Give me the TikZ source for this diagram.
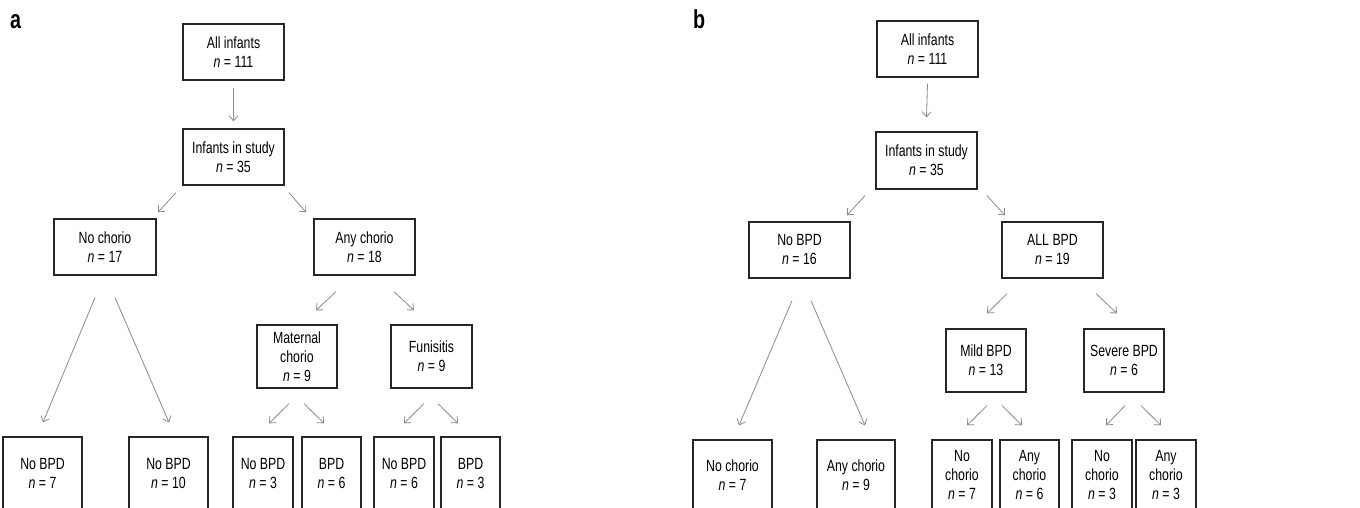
\documentclass[tikz,border=0pt]{standalone}
\usepackage{fontspec}
\setmainfont{Liberation Sans}[FakeStretch=0.76]
\usetikzlibrary{arrows.meta}
\definecolor{boxline}{HTML}{262626}
\definecolor{arrline}{HTML}{8A8A8A}
\tikzset{
  box/.style={draw=boxline, line width=1.3pt, inner sep=0pt, align=center,
    font=\fontsize{16.2}{19}\selectfont, text=black},
  arr/.style={draw=arrline, line width=0.8pt, -{Straight Barb[length=5pt,width=9pt]}},
  panel/.style={font=\bfseries\fontsize{26}{26}\selectfont, anchor=base west, inner sep=0pt},
}
\newcommand{\nn}[1]{\textit{n} = #1}
\begin{document}
\begin{tikzpicture}[x=1pt,y=-1pt]
\path[use as bounding box] (0,0) rectangle (1360,508);
\clip (0,0) rectangle (1360,508);
% panel labels
\node[panel] (la) at (10,29) {a};
\node[panel] (lb) at (693,29) {b};
% ---------- panel a ----------
\node[box, minimum width=101pt, minimum height=56pt] (aall) at (233.5,52) {All infants\\\nn{111}};
\node[box, minimum width=101pt, minimum height=56pt] (astudy) at (233.5,157) {Infants in study\\\nn{35}};
\node[box, minimum width=102pt, minimum height=56pt] (anoch) at (105,247) {No chorio\\\nn{17}};
\node[box, minimum width=101pt, minimum height=56pt] (aany) at (364.5,247) {Any chorio\\\nn{18}};
\node[box, minimum width=80pt, minimum height=63pt] (amat) at (297,356.5) {Maternal\\chorio\\\nn{9}};
\node[box, minimum width=81pt, minimum height=63pt] (afun) at (431.5,356.5) {Funisitis\\\nn{9}};
\node[box, minimum width=79pt, minimum height=73pt] (ab1) at (42.5,473.5) {No BPD\\\nn{7}};
\node[box, minimum width=79pt, minimum height=73pt] (ab2) at (168.5,473.5) {No BPD\\\nn{10}};
\node[box, minimum width=60pt, minimum height=73pt] (ab3) at (263,473.5) {No BPD\\\nn{3}};
\node[box, minimum width=59pt, minimum height=73pt] (ab4) at (331.5,473.5) {BPD\\\nn{6}};
\node[box, minimum width=60pt, minimum height=73pt] (ab5) at (404,473.5) {No BPD\\\nn{6}};
\node[box, minimum width=59pt, minimum height=73pt] (ab6) at (470.5,473.5) {BPD\\\nn{3}};
\draw[arr] ([shift={(0,7)}]aall.south) -- ([shift={(0,-7)}]astudy.north);
\draw[arr] ([shift={(-57.5,7)}]astudy.south) -- ([shift={(53,-6)}]anoch.north);
\draw[arr] ([shift={(55.5,7)}]astudy.south) -- ([shift={(-58.5,-6)}]aany.north);
\draw[arr] ([shift={(-10,22)}]anoch.south) -- ([shift={(0.5,-14)}]ab1.north);
\draw[arr] ([shift={(10,22)}]anoch.south) -- ([shift={(0.5,-14)}]ab2.north);
\draw[arr] ([shift={(-28.5,16)}]aany.south) -- ([shift={(19,-14)}]amat.north);
\draw[arr] ([shift={(29.5,16)}]aany.south) -- ([shift={(-17.5,-14)}]afun.north);
\draw[arr] ([shift={(-8,15)}]amat.south) -- ([shift={(6,-13)}]ab3.north);
\draw[arr] ([shift={(7,15)}]amat.south) -- ([shift={(-7.5,-13)}]ab4.north);
\draw[arr] ([shift={(-7.5,15)}]afun.south) -- ([shift={(0,-13)}]ab5.north);
\draw[arr] ([shift={(6.5,15)}]afun.south) -- ([shift={(-12.5,-13)}]ab6.north);
% ---------- panel b ----------
\node[box, minimum width=101pt, minimum height=56pt] (ball) at (927.5,49) {All infants\\\nn{111}};
\node[box, minimum width=101pt, minimum height=57pt] (bstudy) at (926.5,160.5) {Infants in study\\\nn{35}};
\node[box, minimum width=101pt, minimum height=56pt] (bno) at (799.5,250) {No BPD\\\nn{16}};
\node[box, minimum width=101pt, minimum height=56pt] (ballb) at (1052.5,250) {ALL BPD\\\nn{19}};
\node[box, minimum width=80pt, minimum height=63pt] (bmild) at (986,360.5) {Mild BPD\\\nn{13}};
\node[box, minimum width=80pt, minimum height=63pt] (bsev) at (1124,360.5) {Severe BPD\\\nn{6}};
\node[box, minimum width=79pt, minimum height=70pt] (bb1) at (732.5,475) {No chorio\\\nn{7}};
\node[box, minimum width=78pt, minimum height=70pt] (bb2) at (856,475) {Any chorio\\\nn{9}};
\node[box, minimum width=60pt, minimum height=70pt] (bb3) at (962,475) {No\\chorio\\\nn{7}};
\node[box, minimum width=59pt, minimum height=70pt] (bb4) at (1029.5,475) {Any\\chorio\\\nn{6}};
\node[box, minimum width=60pt, minimum height=70pt] (bb5) at (1102,475) {No\\chorio\\\nn{3}};
\node[box, minimum width=60pt, minimum height=70pt] (bb6) at (1166,475) {Any\\chorio\\\nn{3}};
\draw[arr] ([shift={(0,6)}]ball.south) -- ([shift={(0,-14)}]bstudy.north);
\draw[arr] ([shift={(-61.5,6)}]bstudy.south) -- ([shift={(47.5,-6)}]bno.north);
\draw[arr] ([shift={(60.5,6)}]bstudy.south) -- ([shift={(-47.5,-6)}]ballb.north);
\draw[arr] ([shift={(-7.5,22)}]bno.south) -- ([shift={(6.5,-14)}]bb1.north);
\draw[arr] ([shift={(11.5,22)}]bno.south) -- ([shift={(9,-14)}]bb2.north);
\draw[arr] ([shift={(-45.5,15)}]ballb.south) -- ([shift={(1,-15)}]bmild.north);
\draw[arr] ([shift={(43.5,15)}]ballb.south) -- ([shift={(-7,-15)}]bsev.north);
\draw[arr] ([shift={(1,13)}]bmild.south) -- ([shift={(5,-14)}]bb3.north);
\draw[arr] ([shift={(16,13)}]bmild.south) -- ([shift={(-7.5,-14)}]bb4.north);
\draw[arr] ([shift={(1,13)}]bsev.south) -- ([shift={(4,-14)}]bb5.north);
\draw[arr] ([shift={(17,13)}]bsev.south) -- ([shift={(-5,-14)}]bb6.north);
\end{tikzpicture}
\end{document}
